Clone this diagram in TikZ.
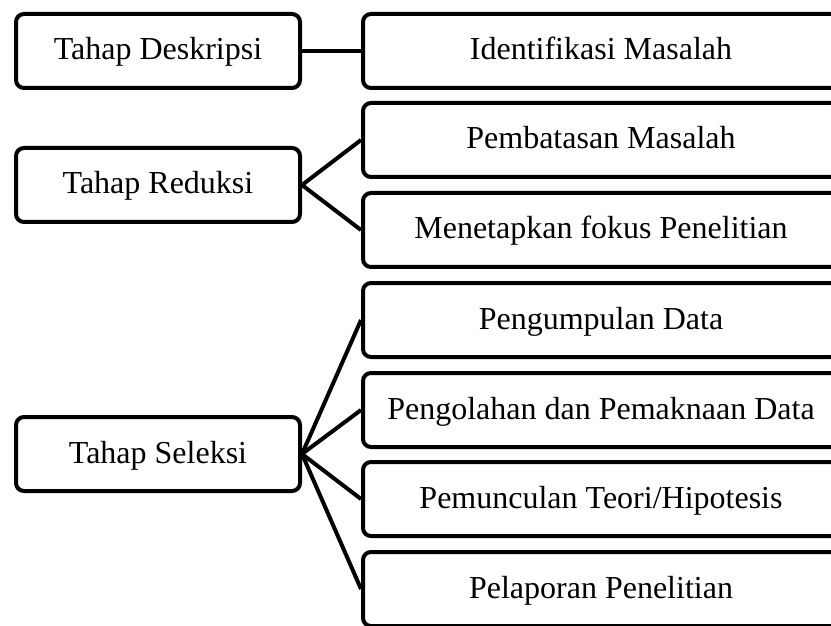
\documentclass[tikz,border=0pt]{standalone}
\usepackage{fontspec}
\setmainfont{Liberation Serif}

\begin{document}
\begin{tikzpicture}[x=0.5pt,y=-0.5pt,
    stage/.style={draw,line width=2pt,rounded corners=4pt,minimum width=142pt,minimum height=37pt,
      text height=0.9em,text depth=0pt,font=\fontsize{16}{19}\selectfont},
    task/.style={stage,minimum width=238pt},
    link/.style={line width=2pt}]
    \path[use as bounding box,clip] (0,0) rectangle (831,626);
    \node[stage] (deskripsi) at (158,51) {Tahap Deskripsi};
    \node[stage] (reduksi) at (158,185) {Tahap Reduksi};
    \node[stage] (seleksi) at (158,454) {Tahap Seleksi};
    \node[task] (identifikasi) at (601,51) {Identifikasi Masalah};
    \node[task] (pembatasan) at (601,140) {Pembatasan Masalah};
    \node[task] (fokus) at (601,230) {Menetapkan fokus Penelitian};
    \node[task] (pengumpulan) at (601,320) {Pengumpulan Data};
    \node[task] (pengolahan) at (601,410) {Pengolahan dan Pemaknaan Data};
    \node[task] (pemunculan) at (601,499) {Pemunculan Teori/Hipotesis};
    \node[task] (pelaporan) at (601,589) {Pelaporan Penelitian};
    \draw[link] (deskripsi.east) -- (identifikasi.west);
    \foreach \t in {pembatasan,fokus}
      \draw[link] (reduksi.east) -- (\t.west);
    \foreach \t in {pengumpulan,pengolahan,pemunculan,pelaporan}
      \draw[link] (seleksi.east) -- (\t.west);
  \end{tikzpicture}
\end{document}
